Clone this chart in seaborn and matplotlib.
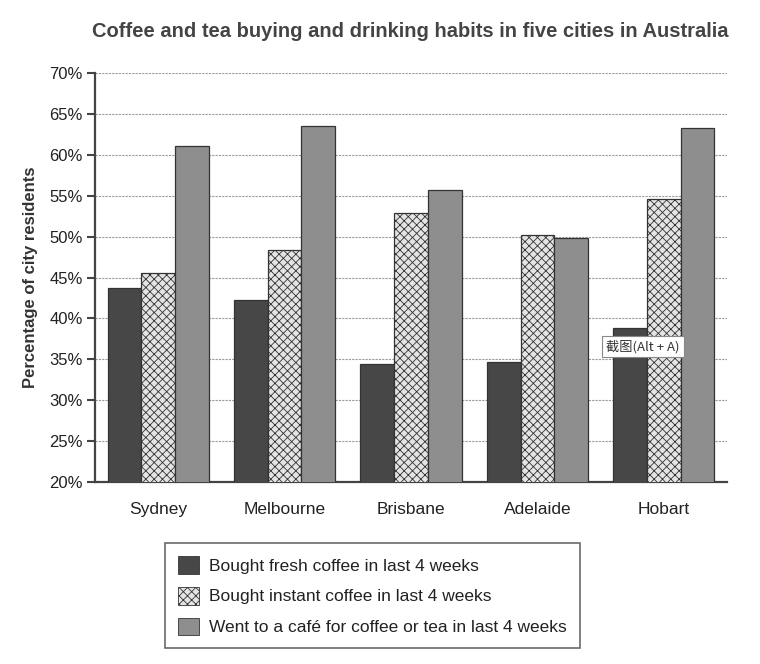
import pandas as pd
import matplotlib.pyplot as plt
import matplotlib.patches as mpatches
import seaborn as sns

# valores
ciudades = ['Sydney', 'Melbourne', 'Brisbane', 'Adelaide', 'Hobart']
series = ['Bought fresh coffee in last 4 weeks',
          'Bought instant coffee in last 4 weeks',
          'Went to a café for coffee or tea in last 4 weeks']
fresh = [43.7, 42.3, 34.4, 34.7, 38.8]
instant = [45.5, 48.4, 52.9, 50.2, 54.6]
cafe = [61.1, 63.5, 55.7, 49.8, 63.3]
yticks = [20, 25, 30, 35, 40, 45, 50, 55, 60, 65, 70]

colores = ['#474747', '#e4e4e4', '#8e8e8e']
tramas = ['', 'xxxx', '']

df = pd.DataFrame({'Ciudad': ciudades * 3,
                   'Serie': [s for s in series for _ in ciudades],
                   'Valor': fresh + instant + cafe})

sns.set_style('white')
plt.rcParams['font.family'] = ['Liberation Sans', 'DejaVu Sans']
plt.rcParams['hatch.linewidth'] = 0.6
plt.rcParams['hatch.color'] = '#444444'

fig = plt.figure(figsize=(7.6, 6.64), dpi=100)
ax = fig.add_axes([0.125, 0.274, 0.8316, 0.616])

sns.barplot(data=df, x='Ciudad', y='Valor', hue='Serie', hue_order=series,
            palette=colores, width=0.8, edgecolor='#333333', linewidth=0.9,
            legend=False, ax=ax, zorder=3)

for cont, trama in zip(ax.containers, tramas):
    for barra in cont:
        barra.set_hatch(trama)

ax.set_ylim(20, 70)
ax.set_yticks(yticks)
ax.set_yticklabels([f'{v}%' for v in yticks], fontsize=12, color='#222222')
ax.yaxis.grid(True, linestyle=(0, (2, 1)), color='#9a9a9a', linewidth=0.8, zorder=0)
ax.set_axisbelow(True)

ax.set_xlim(-0.5, 4.5)
ax.set_xticks(range(len(ciudades)))
ax.set_xticklabels(ciudades, fontsize=12.5, color='#222222')
ax.set_xticks([i - 0.5 for i in range(len(ciudades) + 1)], minor=True)
ax.tick_params(axis='x', which='major', length=0, pad=14)
ax.tick_params(axis='x', which='minor', length=7, width=1.5, color='#444444', direction='out')
ax.tick_params(axis='y', length=6, width=1.5, color='#444444', direction='out', pad=3, left=True)

for lado in ['top', 'right']:
    ax.spines[lado].set_visible(False)
for lado in ['left', 'bottom']:
    ax.spines[lado].set_color('#444444')
    ax.spines[lado].set_linewidth(1.6)

ax.set_xlabel('')
ax.set_ylabel('Percentage of city residents', fontsize=12, fontweight='bold',
              color='#333333', labelpad=8)
fig.text(0.54, 0.952, 'Coffee and tea buying and drinking habits in five cities in Australia',
         ha='center', va='center', fontsize=14.5, fontweight='bold', color='#444444')

manijas = [mpatches.Patch(facecolor=c, edgecolor='#333333', hatch=h, linewidth=0.6, label=s)
           for c, h, s in zip(colores, tramas, series)]
leg = fig.legend(handles=manijas, loc='center', bbox_to_anchor=(0.49, 0.103),
                 fontsize=12.5, frameon=True, fancybox=False, handlelength=1.2,
                 handleheight=1.2, labelspacing=0.75, borderpad=0.75, handletextpad=0.6)
leg.get_frame().set_edgecolor('#444444')
leg.get_frame().set_linewidth(1.2)
for t in leg.get_texts():
    t.set_color('#222222')

# cuadro emergente de captura que aparece en la imagen
fig.text(0.846, 0.478, '截图(Alt + A)', ha='center', va='center', fontsize=9.5,
         family=['Noto Sans CJK SC', 'DejaVu Sans'], color='#333333',
         bbox=dict(boxstyle='square,pad=0.3', facecolor='white', edgecolor='#888888', linewidth=0.8),
         zorder=10)

fig.savefig('out.png', dpi=100)
